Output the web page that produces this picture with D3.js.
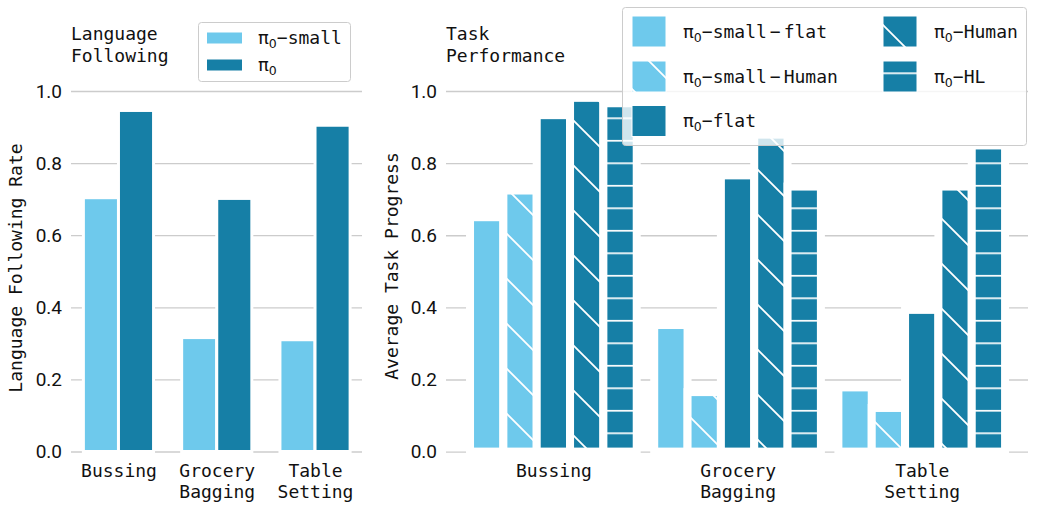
<!DOCTYPE html>
<html>
<head>
<meta charset="utf-8">
<script src="https://cdn.jsdelivr.net/npm/d3@7"></script>
<style>
  body { margin: 0; background: #fff; }
  .mono { font-family: "DejaVu Sans Mono", monospace; }
</style>
</head>
<body>
<div id="body"></div>
<script>
// data
var categoryLines = [["Bussing"], ["Grocery", "Bagging"], ["Table", "Setting"]];
var yTicks = [0, 0.2, 0.4, 0.6, 0.8, 1.0];

// left panel: language following
var lfSmall = [0.704, 0.316, 0.310];
var lfFull  = [0.946, 0.702, 0.905];

// right panel: task progress
var tpSmallFlat  = [0.650, 0.351, 0.178];
var tpSmallHuman = [0.724, 0.165, 0.121];
var tpFlat       = [0.933, 0.766, 0.393];
var tpHuman      = [0.981, 0.879, 0.735];
var tpHL         = [0.966, 0.735, 0.849];

var lightBlue = "#6ec9ec";
var darkBlue = "#167fa6";

var width = 1041, height = 511;
var svg = d3.select("#body").append("svg")
  .attr("width", width).attr("height", height);

// hatch patterns (user space so they line up across the figure)
var defs = svg.append("defs");
function diagPattern(id, color) {
  var p = defs.append("pattern").attr("id", id)
    .attr("patternUnits", "userSpaceOnUse")
    .attr("width", 45).attr("height", 45);
  p.append("rect").attr("width", 45).attr("height", 45).attr("fill", color);
  p.append("path").attr("d", "M-2,40 L5,47 M1,-2 L47,44")
    .attr("stroke", "#fff").attr("stroke-width", 1.8);
}
function horizPattern(id, color) {
  var p = defs.append("pattern").attr("id", id)
    .attr("patternUnits", "userSpaceOnUse")
    .attr("width", 45).attr("height", 22.5);
  p.append("rect").attr("width", 45).attr("height", 22.5).attr("fill", color);
  p.append("path").attr("d", "M0,5.7 L45,5.7")
    .attr("stroke", "#fff").attr("stroke-width", 1.8);
}
diagPattern("diagLight", lightBlue);
diagPattern("diagDark", darkBlue);
horizPattern("horizDark", darkBlue);

// y grid + tick labels through d3 axis
function drawYAxis(y, x0, x1) {
  var axis = d3.axisLeft(y).tickValues(yTicks)
    .tickFormat(d3.format(".1f"))
    .tickSize(-(x1 - x0)).tickPadding(9);
  var g = svg.append("g").attr("transform", "translate(" + x0 + ",0)").call(axis);
  g.select(".domain").remove();
  g.selectAll(".tick line").attr("stroke", "#cccccc").attr("stroke-width", 1.3);
  g.selectAll(".tick text")
    .attr("font-family", "Roboto, sans-serif").attr("font-size", 19)
    .attr("fill", "#111");
}

// category labels through d3 axis
function drawXAxis(x, yPos) {
  var axis = d3.axisBottom(x).tickValues([0, 1, 2]).tickSize(0).tickFormat("");
  var g = svg.append("g").attr("transform", "translate(0," + yPos + ")").call(axis);
  g.select(".domain").remove();
  g.selectAll(".tick").each(function (d) {
    var t = d3.select(this).append("text")
      .attr("class", "mono").attr("font-size", 18).attr("fill", "#111")
      .attr("text-anchor", "middle");
    categoryLines[d].forEach(function (line, i) {
      t.append("tspan").attr("x", 0).attr("y", 25 + i * 21.5).text(line);
    });
  });
}

// bars: geometry width = pitch, thick white edge like matplotlib
function drawBars(vals, x, y, offset, barW, fill, edge) {
  svg.append("g").selectAll("rect").data(vals).enter().append("rect")
    .attr("x", function (d, i) { return x(i + offset) - barW / 2; })
    .attr("y", function (d) { return y(d); })
    .attr("width", barW)
    .attr("height", function (d) { return y(0) - y(d); })
    .attr("fill", fill)
    .attr("stroke", "#fff").attr("stroke-width", edge);
}

// "π₀" followed by text parts; parts after the first are separated by a narrow minus
function piLabel(parent, x, yMid, parts) {
  var t = parent.append("text").attr("x", x).attr("y", yMid).attr("dy", "0.35em")
    .attr("fill", "#111").attr("font-size", 18);
  t.append("tspan").attr("font-family", "DejaVu Sans, sans-serif").text("π");
  t.append("tspan").attr("font-family", "DejaVu Sans, sans-serif")
    .attr("font-size", 12.5).attr("dy", 4).text("0");
  parts.forEach(function (p, i) {
    if (i === 0) {
      t.append("tspan").attr("class", "mono").attr("dy", -4).text(p);
    } else {
      t.append("tspan").attr("class", "mono").attr("dx", 3).text("−");
      t.append("tspan").attr("class", "mono").attr("dx", 3).text(p);
    }
  });
}

// ---------- left panel ----------
var xL = d3.scaleLinear().domain([-0.483, 2.478]).range([71, 362]);
var yL = d3.scaleLinear().domain([0, 1]).range([451.5, 91]);
drawYAxis(yL, 71, 362);
drawXAxis(xL, yL(0));
var offL = 0.1785, bwL = xL(0.357) - xL(0);
drawBars(lfSmall, xL, yL, -offL, bwL, lightBlue, 3);
drawBars(lfFull, xL, yL, offL, bwL, darkBlue, 3);

svg.append("text").attr("class", "mono").attr("font-size", 18).attr("fill", "#111")
  .attr("transform", "translate(22,268) rotate(-90)").attr("text-anchor", "middle")
  .text("Language Following Rate");
var tL = svg.append("text").attr("class", "mono").attr("font-size", 18).attr("fill", "#111");
tL.append("tspan").attr("x", 71).attr("y", 40).text("Language");
tL.append("tspan").attr("x", 71).attr("y", 62).text("Following");

// left legend
var legL = svg.append("g");
legL.append("rect").attr("x", 198.5).attr("y", 22.5).attr("width", 152).attr("height", 59)
  .attr("rx", 3).attr("fill", "#fff").attr("fill-opacity", 0.8)
  .attr("stroke", "#cccccc").attr("stroke-width", 1);
[[lightBlue, ["−small"], 38], [darkBlue, [""], 65]].forEach(function (e) {
  legL.append("rect").attr("x", 207).attr("y", e[2] - 5.5).attr("width", 35).attr("height", 11)
    .attr("fill", e[0]);
  piLabel(legL, 258, e[2], e[1]);
});

// ---------- right panel ----------
var xR = d3.scaleLinear().domain([-0.583, 2.577]).range([446, 1028]);
var yR = d3.scaleLinear().domain([0, 1]).range([451.6, 91]);
drawYAxis(yR, 446, 1028);
drawXAxis(xR, yR(0));
var stepR = 0.181, bwR = xR(stepR) - xR(0);
var seriesR = [
  [tpSmallFlat, lightBlue],
  [tpSmallHuman, "url(#diagLight)"],
  [tpFlat, darkBlue],
  [tpHuman, "url(#diagDark)"],
  [tpHL, "url(#horizDark)"]
];
seriesR.forEach(function (s, k) {
  drawBars(s[0], xR, yR, (k - 2) * stepR, bwR, s[1], 8);
});

svg.append("text").attr("class", "mono").attr("font-size", 18).attr("fill", "#111")
  .attr("transform", "translate(398,266) rotate(-90)").attr("text-anchor", "middle")
  .text("Average Task Progress");
var tR = svg.append("text").attr("class", "mono").attr("font-size", 18).attr("fill", "#111");
tR.append("tspan").attr("x", 446).attr("y", 40).text("Task");
tR.append("tspan").attr("x", 446).attr("y", 62).text("Performance");

// right legend (drawn over the bars)
var legR = svg.append("g");
legR.append("rect").attr("x", 622.5).attr("y", 7.5).attr("width", 404).attr("height", 138)
  .attr("rx", 3).attr("fill", "#fff").attr("fill-opacity", 0.8)
  .attr("stroke", "#cccccc").attr("stroke-width", 1);
var legItems = [
  [lightBlue, ["−small", "flat"], 632, 31.5],
  ["url(#diagLight)", ["−small", "Human"], 632, 76.5],
  [darkBlue, ["−flat"], 632, 121],
  ["url(#diagDark)", ["−Human"], 883, 31.5],
  ["url(#horizDark)", ["−HL"], 883, 76.5]
];
legItems.forEach(function (e) {
  legR.append("rect").attr("x", e[2]).attr("y", e[3] - 15.5).attr("width", 34).attr("height", 31)
    .attr("fill", e[0]).attr("stroke", "#fff").attr("stroke-width", 1);
  piLabel(legR, e[2] + 51, e[3], e[1]);
});
</script>
</body>
</html>
